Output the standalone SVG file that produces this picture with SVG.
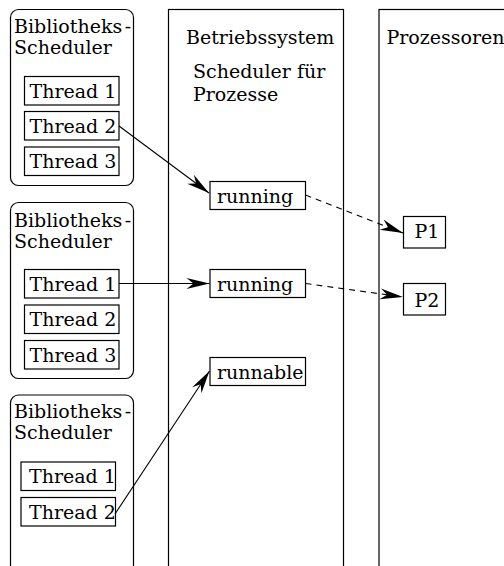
<svg xmlns="http://www.w3.org/2000/svg" width="504" height="566" viewBox="0 0 504 566">
  <style>
    text { font-family: "DejaVu Serif", "Liberation Serif", serif; font-size: 19px; fill: #000; }
    .lib { fill: #fff; stroke: #000; stroke-width: 1.2; }
    .col { fill: none; stroke: #000; stroke-width: 1.2; }
    .box { fill: #fff; stroke: #000; stroke-width: 1.2; }
    .edge { fill: none; stroke: #000; stroke-width: 1.1; }
    .dash { stroke-dasharray: 6 5; }
  </style>
  <defs>
    <marker id="spear" viewBox="-24 -7 26 14" markerWidth="26" markerHeight="14" refX="0" refY="0" orient="auto" markerUnits="userSpaceOnUse">
      <path d="M0,0 L-23,-5.5 L-16,0 L-23,5.5 Z" fill="#000"/>
    </marker>
  </defs>

  <!-- operating system column -->
  <g id="os">
    <rect class="col" x="168.5" y="9.5" width="175" height="620"/>
    <text x="186" y="44">Betriebssystem</text>
    <text x="193" y="78">Scheduler für</text>
    <text x="193" y="100.5">Prozesse</text>
  </g>

  <!-- processor column -->
  <g id="cpus">
    <rect class="col" x="379" y="9.5" width="200" height="620"/>
    <text x="386.5" y="44">Prozessoren</text>
  </g>

  <!-- library scheduler 1 -->
  <g id="lib1">
    <rect class="lib" x="10.5" y="9.5" width="123" height="176" rx="8"/>
    <text x="14" y="33">Bibliotheks<tspan dx="2.5">-</tspan></text>
    <text x="14" y="54">Scheduler</text>
    <rect class="box" x="24.5" y="76.5" width="94.5" height="28.5"/>
    <text x="29.5" y="97.5">Thread 1</text>
    <rect class="box" x="24.5" y="111.5" width="94.5" height="28.5"/>
    <text x="29.5" y="132.5">Thread 2</text>
    <rect class="box" x="24.5" y="147" width="94.5" height="28.5"/>
    <text x="29.5" y="168">Thread 3</text>
  </g>

  <!-- library scheduler 2 -->
  <g id="lib2">
    <rect class="lib" x="10.5" y="202.5" width="123" height="176" rx="8"/>
    <text x="14" y="227">Bibliotheks<tspan dx="2.5">-</tspan></text>
    <text x="14" y="248">Scheduler</text>
    <rect class="box" x="24.5" y="269.5" width="94.5" height="28.5"/>
    <text x="29.5" y="290.5">Thread 1</text>
    <rect class="box" x="24.5" y="305" width="94.5" height="28.5"/>
    <text x="29.5" y="326">Thread 2</text>
    <rect class="box" x="24.5" y="340.5" width="94.5" height="28.5"/>
    <text x="29.5" y="361.5">Thread 3</text>
  </g>

  <!-- library scheduler 3 -->
  <g id="lib3">
    <rect class="lib" x="10.5" y="395" width="123" height="200" rx="8"/>
    <text x="14" y="418">Bibliotheks<tspan dx="2.5">-</tspan></text>
    <text x="14" y="439">Scheduler</text>
    <rect class="box" x="21" y="462" width="94.5" height="28.5"/>
    <text x="29" y="483">Thread 1</text>
    <rect class="box" x="21" y="497.5" width="94.5" height="28.5"/>
    <text x="29" y="518.5">Thread 2</text>
  </g>

  <!-- kernel-level entities -->
  <g id="run1">
    <rect class="box" x="210" y="181.5" width="95.5" height="28"/>
    <text x="217" y="203">running</text>
  </g>
  <g id="run2">
    <rect class="box" x="210" y="269.5" width="95.5" height="28"/>
    <text x="217" y="291">running</text>
  </g>
  <g id="runnable">
    <rect class="box" x="210" y="357.5" width="95.5" height="28"/>
    <text x="217" y="379">runnable</text>
  </g>

  <!-- processors -->
  <g id="p1">
    <rect class="box" x="403.5" y="216.5" width="42" height="31.5"/>
    <text x="414.5" y="238">P1</text>
  </g>
  <g id="p2">
    <rect class="box" x="403.5" y="283.5" width="42" height="31.5"/>
    <text x="414.5" y="307">P2</text>
  </g>

  <!-- connectors -->
  <g id="edges">
    <line class="edge" x1="119" y1="126" x2="209" y2="193" marker-end="url(#spear)"/>
    <line class="edge" x1="119" y1="283.5" x2="209.5" y2="283.5" marker-end="url(#spear)"/>
    <line class="edge" x1="115" y1="514" x2="209.5" y2="371" marker-end="url(#spear)"/>
    <line class="edge dash" x1="305.5" y1="195" x2="403" y2="233" marker-end="url(#spear)"/>
    <line class="edge dash" x1="305.5" y1="283.5" x2="403" y2="297" marker-end="url(#spear)"/>
  </g>
</svg>
